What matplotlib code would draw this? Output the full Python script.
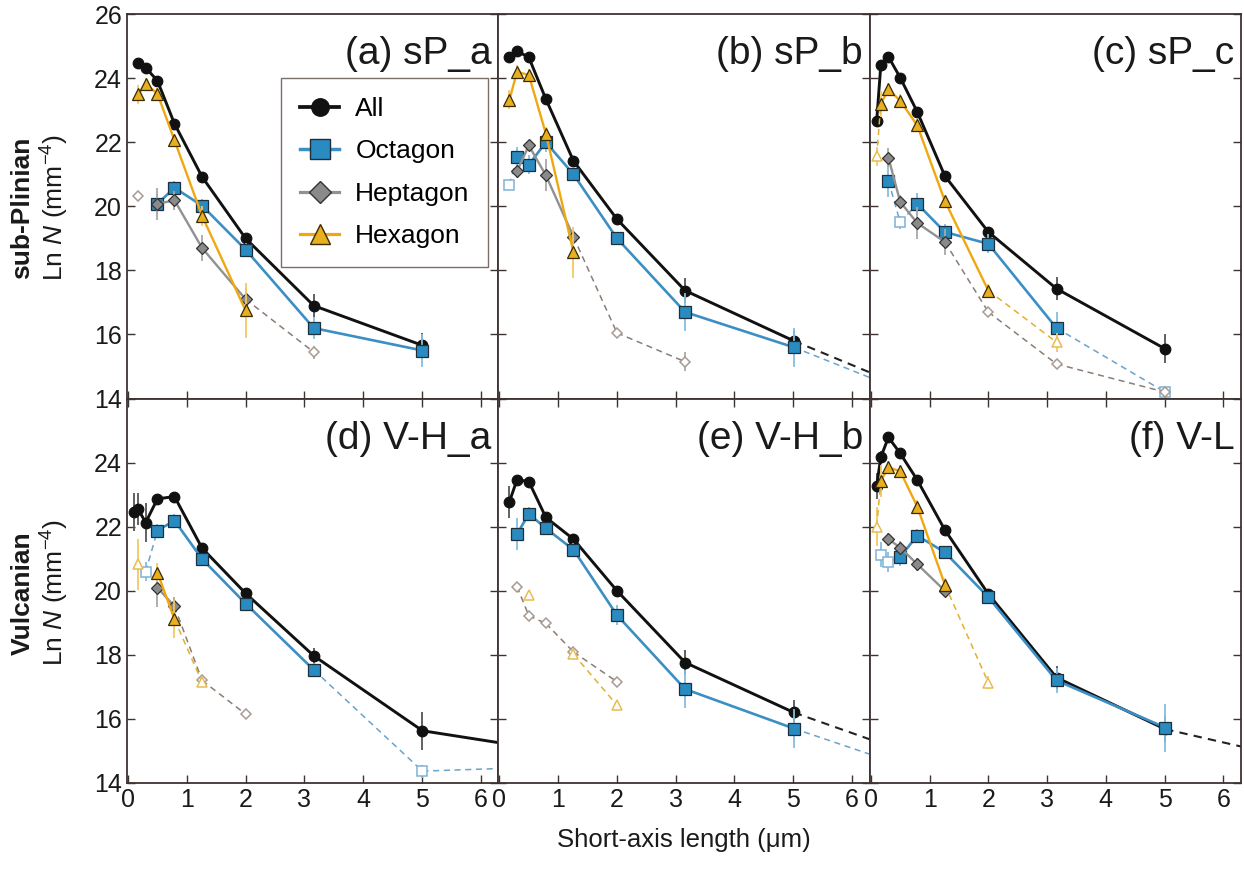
import numpy as np
import matplotlib
matplotlib.use("Agg")
import matplotlib.pyplot as plt
from matplotlib.lines import Line2D

plt.rcParams["font.family"] = ["Liberation Sans", "DejaVu Sans"]
plt.rcParams["mathtext.fontset"] = "custom"
plt.rcParams["mathtext.rm"] = "Liberation Sans"
plt.rcParams["mathtext.it"] = "Liberation Sans:italic"

nan = np.nan

# ---------------------------------------------------------------------------
# Datos (Ln N por clase de tamaño)
# ---------------------------------------------------------------------------
SIZES = [0.1, 0.17, 0.3, 0.5, 0.79, 1.26, 2.0, 3.16, 5.01, 7.94]
SERIES = ["All", "Octagon", "Heptagon", "Hexagon"]
TITLES = ["(a) sP_a", "(b) sP_b", "(c) sP_c", "(d) V-H_a", "(e) V-H_b", "(f) V-L"]

# orden de filas: All, Octagon, Heptagon, Hexagon
LN_N_A = [
    [nan, 24.46, 24.33, 23.92, 22.58, 20.92, 19.0, 16.9, 15.66, nan],
    [nan, nan, nan, 20.08, 20.58, 20.02, 18.65, 16.2, 15.5, nan],
    [nan, 20.32, nan, 20.08, 20.19, 18.7, 17.1, 15.45, nan, nan],
    [nan, 23.5, 23.82, 23.52, 22.06, 19.7, 16.75, nan, nan, nan],
]
ERR_A = [
    [0, 0.1, 0.1, 0.1, 0.15, 0.15, 0.15, 0.35, 0.4, 0],
    [0, 0, 0, 0.3, 0.2, 0.2, 0.2, 0.35, 0.5, 0],
    [0, 0.1, 0, 0.5, 0.3, 0.4, 0.35, 0.2, 0, 0],
    [0, 0.3, 0.2, 0.2, 0.2, 0.3, 0.85, 0, 0, 0],
]
OPEN_A = [[], [], [1, 7], []]

LN_N_B = [
    [nan, 24.65, 24.85, 24.65, 23.35, 21.42, 19.6, 17.37, 15.8, 13.57],
    [nan, 20.68, 21.55, 21.3, 22.0, 21.0, 19.0, 16.7, 15.6, 13.46],
    [nan, nan, 21.1, 21.9, 20.97, 19.05, 16.05, 15.15, nan, nan],
    [nan, 23.33, 24.2, 24.1, 22.27, 18.57, nan, nan, nan, nan],
]
ERR_B = [
    [0, 0.1, 0.1, 0.1, 0.1, 0.15, 0.15, 0.4, 0.35, 0],
    [0, 0.1, 0.3, 0.3, 0.3, 0.2, 0.2, 0.6, 0.6, 0],
    [0, 0, 0.2, 0.1, 0.5, 0.2, 0.1, 0.3, 0, 0],
    [0, 0.3, 0.2, 0.2, 0.2, 0.8, 0, 0, 0, 0],
]
OPEN_B = [[9], [1, 9], [6, 7], []]

LN_N_C = [
    [22.67, 24.41, 24.67, 24.02, 22.95, 20.95, 19.2, 17.43, 15.55, nan],
    [nan, nan, 20.8, 19.5, 20.08, 19.2, 18.83, 16.2, 14.2, nan],
    [nan, nan, 21.52, 20.14, 19.48, 18.89, 16.7, 15.08, 14.2, nan],
    [21.56, 23.2, 23.65, 23.3, 22.53, 20.17, 17.37, 15.76, nan, nan],
]
ERR_C = [
    [0.2, 0.1, 0.1, 0.1, 0.15, 0.1, 0.15, 0.35, 0.45, 0],
    [0, 0, 0.5, 0.2, 0.35, 0.25, 0.3, 0.5, 0.1, 0],
    [0, 0, 0.3, 0.2, 0.5, 0.4, 0.1, 0.15, 0.1, 0],
    [0.3, 0.4, 0.2, 0.2, 0.2, 0.2, 0.2, 0.3, 0, 0],
]
OPEN_C = [[], [3, 8], [6, 7, 8], [0, 7]]

LN_N_D = [
    [22.45, 22.55, 22.13, 22.87, 22.94, 21.33, 19.92, 17.97, 15.63, 14.79],
    [nan, nan, 20.6, 21.88, 22.19, 20.99, 19.6, 17.53, 14.37, 14.55],
    [nan, nan, nan, 20.1, 19.51, 17.2, 16.15, nan, nan, nan],
    [nan, 20.83, nan, 20.57, 19.11, 17.14, nan, nan, nan, nan],
]
ERR_D = [
    [0.6, 0.5, 0.6, 0.15, 0.15, 0.15, 0.15, 0.25, 0.6, 0],
    [0, 0, 0.3, 0.2, 0.2, 0.15, 0.15, 0.2, 0.2, 0],
    [0, 0, 0, 0.6, 0.3, 0.1, 0.1, 0, 0, 0],
    [0, 0.8, 0, 0.3, 0.6, 0.1, 0, 0, 0, 0],
]
OPEN_D = [[], [2, 8, 9], [5, 6], [1, 5]]

LN_N_E = [
    [nan, 22.78, 23.47, 23.41, 22.29, 21.61, 20.0, 17.76, 16.2, 14.3],
    [nan, nan, 21.77, 22.4, 21.95, 21.28, 19.24, 16.93, 15.7, 13.88],
    [nan, nan, 20.13, 19.22, 18.98, 18.09, 17.16, nan, nan, nan],
    [nan, nan, nan, 19.86, nan, 18.02, 16.43, nan, nan, nan],
]
ERR_E = [
    [0, 0.5, 0.1, 0.1, 0.1, 0.15, 0.15, 0.4, 0.4, 0],
    [0, 0, 0.5, 0.2, 0.2, 0.2, 0.3, 0.6, 0.6, 0],
    [0, 0, 0.1, 0.1, 0.1, 0.1, 0.1, 0, 0, 0],
    [0, 0, 0, 0.1, 0, 0.1, 0.1, 0, 0, 0],
]
OPEN_E = [[9], [9], [2, 3, 4, 5, 6], [3, 5, 6]]

LN_N_F = [
    [23.28, 24.17, 24.79, 24.29, 23.46, 21.9, 19.9, 17.29, 15.68, 14.45],
    [nan, 21.13, 20.9, 21.06, 21.72, 21.2, 19.8, 17.2, 15.73, nan],
    [nan, nan, 21.61, 21.35, 20.83, 20.0, nan, nan, nan, nan],
    [22.0, 23.44, 23.85, 23.73, 22.63, 20.19, 17.13, nan, nan, nan],
]
ERR_F = [
    [0.4, 0.2, 0.1, 0.1, 0.15, 0.1, 0.15, 0.35, 0.4, 0],
    [0, 0.4, 0.3, 0.3, 0.2, 0.2, 0.2, 0.4, 0.75, 0],
    [0, 0, 0.2, 0.2, 0.2, 0.2, 0, 0, 0, 0],
    [0.6, 0.5, 0.2, 0.2, 0.2, 0.2, 0.2, 0, 0, 0],
]
OPEN_F = [[9], [1, 2], [], [0, 6]]

PANELES = [
    (LN_N_A, ERR_A, OPEN_A), (LN_N_B, ERR_B, OPEN_B), (LN_N_C, ERR_C, OPEN_C),
    (LN_N_D, ERR_D, OPEN_D), (LN_N_E, ERR_E, OPEN_E), (LN_N_F, ERR_F, OPEN_F),
]

# estilos por serie
ESTILOS = {
    "All": dict(marker="o", ms=7.6, line="#111111", fill="#111111", edge="#111111",
                err="#555555", dash="#222222", open_edge="#444444", lw=2.1, dlw=1.5),
    "Octagon": dict(marker="s", ms=8.6, line="#3b8fc4", fill="#2a8bc0", edge="#1c2f3c",
                    err="#86bde0", dash="#6aa3cc", open_edge="#7fb2d6", lw=1.9, dlw=1.1),
    "Heptagon": dict(marker="D", ms=6.5, line="#919191", fill="#8a8a8a", edge="#333333",
                     err="#a8a8a8", dash="#8c7c74", open_edge="#a89a92", lw=1.7, dlw=1.1),
    "Hexagon": dict(marker="^", ms=9.0, line="#f0a810", fill="#e8b020", edge="#3a2a00",
                    err="#f2c860", dash="#e2b030", open_edge="#e8bc50", lw=1.7, dlw=1.1),
}

COLOR_EJE = "#3d3432"


def dibujar_serie(ax, ys, errs, idx_abiertos, st, z):
    x = np.array(SIZES)
    y = np.array(ys, dtype=float)
    e = np.array(errs, dtype=float)
    abierto = np.zeros(len(x), dtype=bool)
    abierto[idx_abiertos] = True
    valido = ~np.isnan(y)

    m = valido & (e > 0)
    if m.any():
        ax.errorbar(x[m], y[m], yerr=e[m], fmt="none", ecolor=st["err"],
                    elinewidth=1.3, capsize=0, zorder=z)

    # tramos discontinuos hacia/desde puntos abiertos
    for i in range(len(x) - 1):
        if valido[i] and valido[i + 1] and (abierto[i] or abierto[i + 1]):
            ax.plot(x[i:i + 2], y[i:i + 2], ls=(0, (4, 3)), color=st["dash"],
                    lw=st["dlw"], zorder=z + 0.1)

    # tramo continuo entre puntos llenos
    y_lleno = np.where(abierto, np.nan, y)
    ax.plot(x, y_lleno, "-", color=st["line"], lw=st["lw"], zorder=z + 0.2)
    ax.plot(x, y_lleno, ls="none", marker=st["marker"], ms=st["ms"],
            mfc=st["fill"], mec=st["edge"], mew=0.9, zorder=z + 0.3)

    y_abierto = np.where(abierto, y, np.nan)
    ax.plot(x, y_abierto, ls="none", marker=st["marker"], ms=st["ms"] * 0.85,
            mfc="white", mec=st["open_edge"], mew=1.1, zorder=z + 0.3)


fig, axes = plt.subplots(2, 3, figsize=(12.44, 8.85), dpi=100)
fig.subplots_adjust(left=0.102, right=0.9976, top=0.984, bottom=0.1153,
                    wspace=0, hspace=0)

for k, ax in enumerate(axes.flat):
    fila, col = divmod(k, 3)
    valores, errores, abiertos = PANELES[k]
    for j, nombre in enumerate(SERIES):
        dibujar_serie(ax, valores[j], errores[j], abiertos[j], ESTILOS[nombre], 2 + j)

    ax.set_xlim(-0.02, 6.3)
    ax.set_ylim(14, 26)
    ax.set_xticks(range(0, 7))
    ax.set_yticks(range(14, 27, 2))
    ax.tick_params(direction="in", length=6, width=1, colors=COLOR_EJE,
                   labelcolor="#1a1a1a", labelsize=18,
                   left=True, right=True, bottom=True, top=(fila == 1),
                   labelleft=(col == 0), labelbottom=(fila == 1))
    for sp in ax.spines.values():
        sp.set_color(COLOR_EJE)
        sp.set_linewidth(1.3)
    if fila == 1 and col == 0:
        ax.set_yticklabels([str(v) for v in range(14, 25, 2)] + [""])

    ax.text(0.982, 0.87, TITLES[k], transform=ax.transAxes, ha="right",
            va="baseline", fontsize=28, color="#1a1a1a")

# leyenda en el panel (a)
manejadores = []
for nombre in SERIES:
    st = ESTILOS[nombre]
    manejadores.append(Line2D([], [], color=st["line"], lw=st["lw"] + 0.6,
                              marker=st["marker"], ms=st["ms"] * 1.65,
                              mfc=st["fill"], mec=st["edge"], mew=1.0))
leyenda = axes[0, 0].legend(manejadores, SERIES, loc="upper left",
                            bbox_to_anchor=(0.416, 0.833), borderaxespad=0,
                            fontsize=19, frameon=True, fancybox=False,
                            handlelength=1.5, handletextpad=0.6,
                            labelspacing=0.7, borderpad=0.7)
leyenda.get_frame().set_edgecolor("#5a4a44")
leyenda.get_frame().set_linewidth(1.0)
leyenda.set_zorder(20)

fig.text(0.55, 0.051, "Short-axis length (μm)", ha="center", va="center",
         fontsize=18.5, color="#1a1a1a")

for y_c, titulo in [(0.765, "sub-Plinian"), (0.33, "Vulcanian")]:
    fig.text(0.018, y_c, titulo, rotation=90, ha="center", va="center",
             fontsize=19, fontweight="bold", color="#1a1a1a")
    fig.text(0.044, y_c, r"Ln $\it{N}$ (mm$^{-4}$)", rotation=90, ha="center",
             va="center", fontsize=19, color="#1a1a1a")

fig.savefig("out.png", dpi=100)
